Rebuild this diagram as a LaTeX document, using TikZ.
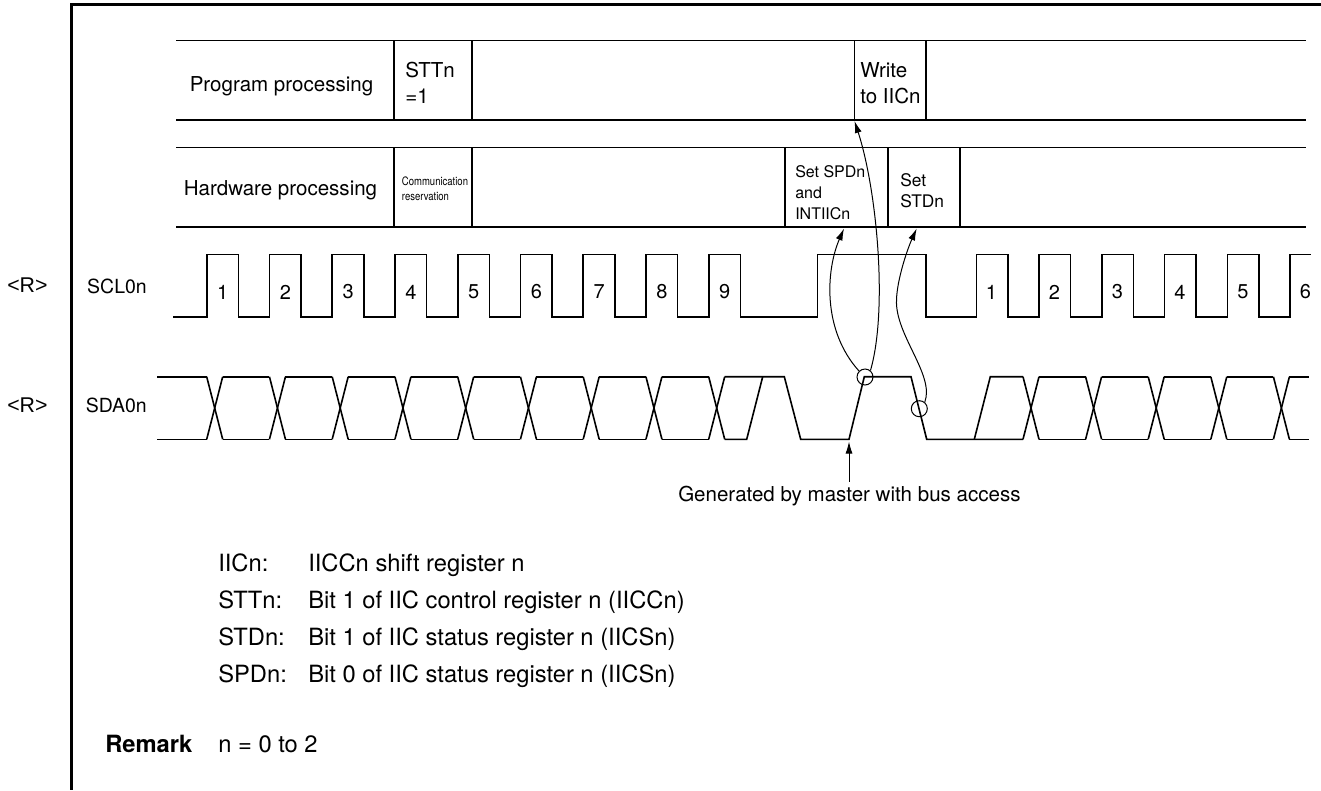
\documentclass[tikz,border=0pt]{standalone}
\usepackage{fontspec}
\setmainfont{TeX Gyre Heros}
\newfontfamily\arialish{Liberation Sans}
\usetikzlibrary{arrows.meta}
\tikzset{
  wave/.style={line width=1.2pt,line join=miter},
  rule/.style={line width=1.2pt},
  frameline/.style={line width=2.25pt},
  rowlbl/.style={inner sep=0pt,font=\fontsize{15.4}{18}\selectfont,anchor=base west},
  cell/.style={inner sep=0pt,anchor=west,align=left,font=\fontsize{15.4}{19.3}\selectfont},
  small/.style={inner sep=0pt,anchor=west,align=left,font=\fontsize{12}{15.8}\selectfont},
  smallb/.style={inner sep=0pt,anchor=west,align=left,font=\fontsize{13}{15.8}\selectfont},
  tiny/.style={inner sep=0pt,anchor=west,align=left,font=\fontsize{8.7}{11.25}\selectfont\addfontfeatures{FakeStretch=0.82}},
  num/.style={inner sep=0pt,font=\fontsize{15}{18}\selectfont},
  sig/.style={inner sep=0pt,anchor=east,font=\fontsize{14.6}{18}\selectfont},
  rmark/.style={inner sep=0pt,anchor=west,font=\arialish\fontsize{16}{18}\selectfont},
  note/.style={inner sep=0pt,anchor=base west,font=\fontsize{15.4}{18}\selectfont},
  key/.style={inner sep=0pt,anchor=base west,font=\fontsize{17.8}{20}\selectfont},
  cur/.style={line width=0.75pt,-{Latex[length=9pt,width=5.25pt]}},
  ring/.style={circle,draw,line width=0.75pt,minimum size=12pt,inner sep=0pt},
}
\begin{document}
\begin{tikzpicture}[x=0.75pt,y=-0.75pt]
\useasboundingbox (0,0) rectangle (1321,790);
% frame
\coordinate (fa) at (1321,4.7);
\coordinate (fb) at (71,4.7);
\coordinate (fc) at (71,790);
\draw[frameline] (fa) -- (fb) -- (fc);
% table
\foreach \y in {40.5,120,147.5,227}{\draw[rule] (176,\y) -- (1306,\y);}
\foreach \x in {394,472,854.5,926}{\draw[rule] (\x,40.5) -- (\x,120);}
\foreach \x in {394,472,785,888,960}{\draw[rule] (\x,147.5) -- (\x,227);}
\node[rowlbl] (pp) at (189.5,91) {Program processing};
\node[rowlbl] (hp) at (183.5,195.7) {Hardware processing};
\node[cell] (stt) at (405,83) {STTn\\=1};
\node[cell] (wr) at (860,83) {Write\\to IICn};
\node[tiny] (cr) at (401.7,189) {Communication\\reservation};
\node[small] (sp) at (795,192.7) {Set SPDn\\and\\INTIICn};
\node[smallb] (ss) at (900,190.5) {Set\\STDn};
% SCL
\draw[wave] (173,317)
 \foreach \k in {0,...,8}{ -- ({206.7+62.75*\k},317) -- ({206.7+62.75*\k},254.5) -- ({238.4+62.75*\k},254.5) -- ({238.4+62.75*\k},317) }
 -- (817.3,317) -- (817.3,254.5) -- (926.2,254.5) -- (926.2,317)
 \foreach \k in {0,...,4}{ -- ({976.3+62.75*\k},317) -- ({976.3+62.75*\k},254.5) -- ({1007.9+62.75*\k},254.5) -- ({1007.9+62.75*\k},317) }
 -- (1289.7,317) -- (1289.7,254.5) -- (1311,254.5);
\foreach \k in {1,...,9}{\node[num] (a\k) at ({160+62.75*\k},292) {\k};}
\foreach \k/\x in {1/991.5,2/1054.5,3/1117.5,4/1180,5/1243,6/1305.5}{\node[num] (b\k) at (\x,292) {\k};}
% SDA
\draw[wave] (157,376.7) -- (206.7,376.7);
\draw[wave] (157,439.3) -- (206.7,439.3);
\foreach \k in {0,...,8}{
 \draw[wave] ({206.7+62.75*\k},376.7) -- ({222.7+62.75*\k},439.3);
 \draw[wave] ({206.7+62.75*\k},439.3) -- ({222.7+62.75*\k},376.7);
}
\foreach \k in {0,...,7}{
 \draw[wave] ({222.7+62.75*\k},376.7) -- ({269.45+62.75*\k},376.7);
 \draw[wave] ({222.7+62.75*\k},439.3) -- ({269.45+62.75*\k},439.3);
}
\draw[wave] (724.7,439.3) -- (746.7,439.3) -- (762.7,376.7);
\draw[wave] (724.7,376.7) -- (784.3,376.7) -- (800.7,439.3) -- (849,439.3) -- (864.3,376.7) -- (911,376.7) -- (926.7,439.3) -- (1023,439.3);
\draw[wave] (974.3,439.3) -- (990.3,376.7) -- (1023,376.7);
\foreach \k in {0,...,4}{
 \draw[wave] ({1023+62.6*\k},376.7) -- ({1039+62.6*\k},439.3);
 \draw[wave] ({1023+62.6*\k},439.3) -- ({1039+62.6*\k},376.7);
}
\foreach \k in {0,...,3}{
 \draw[wave] ({1039+62.6*\k},376.7) -- ({1085.6+62.6*\k},376.7);
 \draw[wave] ({1039+62.6*\k},439.3) -- ({1085.6+62.6*\k},439.3);
}
\draw[wave] (1289.4,376.7) -- (1309,376.7);
\draw[wave] (1289.4,439.3) -- (1309,439.3);
\node[sig] (scl) at (147,286.7) {SCL0n};
\node[sig] (sda) at (147,405.7) {SDA0n};
\node[rmark] (r1) at (7,285) {<R>};
\node[rmark] (r2) at (7,405) {<R>};
% events
\node[ring] (c1) at (865,377) {};
\node[ring] (c2) at (919.3,408.7) {};
\coordinate (t1) at (844,228.5);
\coordinate (t2) at (854.5,121);
\coordinate (t3) at (916.7,228.5);
\draw[cur] (c1.135) .. controls (822,330) and (826,270) .. (t1);
\draw[cur] (c1.50) .. controls (888,310) and (877,190) .. (t2);
\draw[cur] (c2.50) .. controls (935,375) and (895,335) .. (896.5,300) .. controls (897,280) and (907,250) .. (t3);
\node[note] (gen) at (678,501.7) {Generated by master with bus access};
\coordinate (g0) at (849,481.7);
\coordinate (g1) at (849,441.5);
\draw[cur] (g0) -- (g1);
% legend
\foreach \n/\y/\a/\b in {k1/571.7/IICn:/IICCn shift register n,k2/608.5/STTn:/Bit 1 of IIC control register n (IICCn),k3/645.2/STDn:/Bit 1 of IIC status register n (IICSn),k4/682/SPDn:/Bit 0 of IIC status register n (IICSn)}{
 \node[key] (\n a) at (218,\y) {\a};
 \node[key] (\n b) at (308,\y) {\b};
}
\node[key] (rem) at (105,752) {\bfseries Remark};
\node[key] (remt) at (218,752) {n = 0 to 2};
\end{tikzpicture}
\end{document}
